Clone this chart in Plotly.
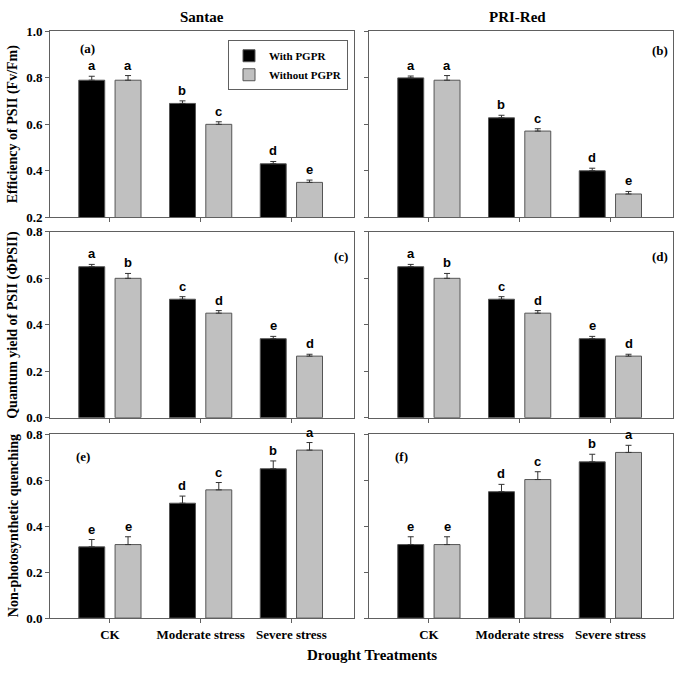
import plotly.graph_objects as go
from plotly.subplots import make_subplots

categories = ["CK", "Moderate stress", "Severe stress"]
cultivars = ["Santae", "PRI-Red"]
series_names = ["With PGPR", "Without PGPR"]

# panel (a)/(b): Fv/Fm
fvfm_with = {"Santae": [0.79, 0.69, 0.43], "PRI-Red": [0.80, 0.628, 0.40]}
fvfm_with_err = {"Santae": [0.017, 0.011, 0.01], "PRI-Red": [0.008, 0.011, 0.011]}
fvfm_without = {"Santae": [0.79, 0.60, 0.35], "PRI-Red": [0.79, 0.571, 0.30]}
fvfm_without_err = {"Santae": [0.02, 0.011, 0.01], "PRI-Red": [0.02, 0.01, 0.011]}
fvfm_letters = {"Santae": ["a", "a", "b", "c", "d", "e"], "PRI-Red": ["a", "a", "b", "c", "d", "e"]}

# panel (c)/(d): quantum yield
phi_with = {"Santae": [0.65, 0.51, 0.34], "PRI-Red": [0.65, 0.51, 0.34]}
phi_with_err = {"Santae": [0.01, 0.011, 0.01], "PRI-Red": [0.01, 0.011, 0.01]}
phi_without = {"Santae": [0.60, 0.45, 0.265], "PRI-Red": [0.60, 0.45, 0.265]}
phi_without_err = {"Santae": [0.021, 0.011, 0.008], "PRI-Red": [0.021, 0.011, 0.008]}
phi_letters = {"Santae": ["a", "b", "c", "d", "e", "d"], "PRI-Red": ["a", "b", "c", "d", "e", "d"]}

# panel (e)/(f): NPQ
npq_with = {"Santae": [0.31, 0.50, 0.65], "PRI-Red": [0.32, 0.55, 0.68]}
npq_with_err = {"Santae": [0.032, 0.031, 0.034], "PRI-Red": [0.034, 0.032, 0.033]}
npq_without = {"Santae": [0.32, 0.558, 0.731], "PRI-Red": [0.32, 0.603, 0.721]}
npq_without_err = {"Santae": [0.034, 0.032, 0.033], "PRI-Red": [0.034, 0.034, 0.031]}
npq_letters = {"Santae": ["e", "e", "d", "c", "b", "a"], "PRI-Red": ["e", "e", "d", "c", "b", "a"]}

panel_tags = [["(a)", "(b)"], ["(c)", "(d)"], ["(e)", "(f)"]]
y_titles = ["Efficiency of PSII (Fv/Fm)", "Quantum yield of PSII (\u03a6PSII)", "Non-photosynthetic quenching"]
y_ranges = [[0.2, 1.0], [0.0, 0.8], [0.0, 0.8]]

rows = [
    (fvfm_with, fvfm_with_err, fvfm_without, fvfm_without_err, fvfm_letters),
    (phi_with, phi_with_err, phi_without, phi_without_err, phi_letters),
    (npq_with, npq_with_err, npq_without, npq_without_err, npq_letters),
]

W, H = 676, 674
SERIF = "Liberation Serif"
SANS = "Liberation Sans"
FRAME = "#606060"

fig = make_subplots(rows=3, cols=2)

x_dom = [(50 / W, 354 / W), (369 / W, 673 / W)]
y_px = [(25, 215), (230, 420), (437, 625)]
y_dom = [(1 - b / H, 1 - t / H) for t, b in y_px]

# panel tag positions (x in category units, y in fraction of panel)
tag_pos = [[(-0.25, 0.91), (2.55, 0.90)], [(2.55, 0.87), (2.55, 0.87)], [(-0.3, 0.88), (-0.3, 0.88)]]

for r, (w, we, wo, woe, letters) in enumerate(rows):
    for c, cv in enumerate(cultivars):
        show = (r == 0 and c == 0)
        fig.add_trace(go.Bar(
            x=categories, y=w[cv], name="<b>" + series_names[0] + "</b>", showlegend=show,
            marker=dict(color="black", line=dict(color="#555555", width=1)),
            error_y=dict(type="data", array=we[cv], arrayminus=[0, 0, 0], symmetric=False,
                         color="#333333", thickness=1, width=3),
        ), row=r + 1, col=c + 1)
        fig.add_trace(go.Bar(
            x=categories, y=wo[cv], name="<b>" + series_names[1] + "</b>", showlegend=show,
            marker=dict(color="#c0c0c0", line=dict(color="#555555", width=1)),
            error_y=dict(type="data", array=woe[cv], arrayminus=[0, 0, 0], symmetric=False,
                         color="#333333", thickness=1, width=3),
        ), row=r + 1, col=c + 1)

        idx = r * 2 + c + 1
        xref = "x" if idx == 1 else f"x{idx}"
        yref = "y" if idx == 1 else f"y{idx}"
        tops = []
        for i in range(3):
            tops.append((i - 0.2, w[cv][i] + we[cv][i]))
            tops.append((i + 0.2, wo[cv][i] + woe[cv][i]))
        for (xx, yy), lab in zip(tops, letters[cv]):
            fig.add_annotation(x=xx, y=yy, xref=xref, yref=yref, text="<b>" + lab + "</b>", showarrow=False,
                               xanchor="center", yanchor="bottom", yshift=1,
                               font=dict(family=SANS, size=13, color="black"))
        tx, ty = tag_pos[r][c]
        lo, hi = y_ranges[r]
        fig.add_annotation(x=tx, y=lo + ty * (hi - lo), xref=xref, yref=yref, text="<b>" + panel_tags[r][c] + "</b>",
                           showarrow=False, xanchor="center", yanchor="middle",
                           font=dict(family=SERIF, size=13, color="black"))

        fig.update_xaxes(domain=list(x_dom[c]), range=[-0.66, 2.69], showline=True, mirror=True,
                         linecolor=FRAME, linewidth=1, ticks="outside", ticklen=4, tickcolor=FRAME,
                         showgrid=False, showticklabels=(r == 2),
                         tickfont=dict(family=SERIF, size=13, color="black"),
                         row=r + 1, col=c + 1)
        fig.update_yaxes(domain=list(y_dom[r]), range=y_ranges[r], dtick=0.2, tickformat=".1f",
                         showline=True, mirror=True, linecolor=FRAME, linewidth=1,
                         ticks="outside", ticklen=4, tickcolor=FRAME, showgrid=False, zeroline=False,
                         showticklabels=(c == 0),
                         tickfont=dict(family=SERIF, size=13, color="black"),
                         row=r + 1, col=c + 1)

# bold tick labels
for ax in fig.layout:
    if ax.startswith("xaxis") and fig.layout[ax].showticklabels:
        fig.layout[ax].ticktext = ["<b>" + t + "</b>" for t in categories]
        fig.layout[ax].tickvals = categories
    if ax.startswith("yaxis") and fig.layout[ax].showticklabels:
        lo, hi = fig.layout[ax].range
        vals = [round(lo + 0.2 * k, 1) for k in range(int(round((hi - lo) / 0.2)) + 1)]
        fig.layout[ax].tickvals = vals
        fig.layout[ax].ticktext = [f"<b>{v:.1f}</b>" for v in vals]

for r, t in enumerate(y_titles):
    top, bot = y_px[r]
    fig.add_annotation(x=13 / W, y=1 - (top + bot) / 2 / H, xref="paper", yref="paper", text="<b>" + t + "</b>",
                       textangle=-90, showarrow=False, xanchor="center", yanchor="middle",
                       font=dict(family=SERIF, size=14, color="black"))

fig.add_annotation(x=202 / W, y=1 - 10 / H, xref="paper", yref="paper", text="<b>Santae</b>",
                   showarrow=False, xanchor="center", yanchor="middle",
                   font=dict(family=SERIF, size=15, color="black"))
fig.add_annotation(x=517 / W, y=1 - 10 / H, xref="paper", yref="paper", text="<b>PRI-Red</b>",
                   showarrow=False, xanchor="center", yanchor="middle",
                   font=dict(family=SERIF, size=15, color="black"))
fig.add_annotation(x=372 / W, y=1 - 663 / H, xref="paper", yref="paper", text="<b>Drought Treatments</b>",
                   showarrow=False, xanchor="center", yanchor="middle",
                   font=dict(family=SERIF, size=15, color="black"))

fig.update_layout(
    width=W, height=H, margin=dict(l=0, r=0, t=0, b=0),
    paper_bgcolor="white", plot_bgcolor="white",
    barmode="group", bargap=0.2, bargroupgap=0.285,
    legend=dict(x=228 / W, y=1 - 34 / H, xanchor="left", yanchor="top",
                bordercolor=FRAME, borderwidth=1, bgcolor="white",
                font=dict(family=SERIF, size=11, color="black"), tracegroupgap=0,
                itemwidth=30),
    showlegend=True,
)

fig.write_html("out.html", config={"displayModeBar": False},
               post_script="document.body.style.margin='0';")
